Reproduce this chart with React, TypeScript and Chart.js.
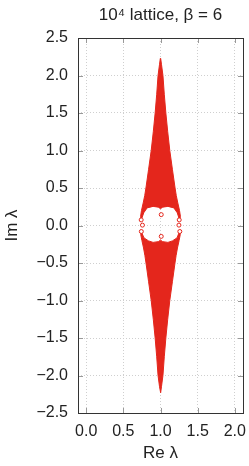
import React, { useEffect, useRef } from 'react';
import { Chart, registerables } from 'chart.js';

Chart.register(...registerables);

const TITLE = '10\u2074 lattice, \u03b2 = 6';
const X_TITLE = 'Re \u03bb';
const Y_TITLE = 'Im \u03bb';

const xTickValues = [0, 0.5, 1, 1.5, 2];
const xTickLabels = ['0.0', '0.5', '1.0', '1.5', '2.0'];
const yTickValues = [-2.5, -2, -1.5, -1, -0.5, 0, 0.5, 1, 1.5, 2, 2.5];
const yTickLabels = ['\u22122.5', '\u22122.0', '\u22121.5', '\u22121.0', '\u22120.5', '0.0', '0.5', '1.0', '1.5', '2.0', '2.5'];

// Upper lobe of the eigenvalue cloud (outline)
const upperRightX = [1.002, 1.013, 1.033, 1.051, 1.072, 1.097, 1.125, 1.16, 1.196, 1.212, 1.233, 1.256, 1.268, 1.262];
const upperRightY = [2.23, 2.15, 2.0, 1.75, 1.5, 1.25, 1.0, 0.75, 0.5, 0.4, 0.3, 0.2, 0.12, 0.09];
const holeTopX = [1.248, 1.225, 1.18, 1.1, 1.03, 1.0, 0.97, 0.9, 0.82, 0.775, 0.75];
const holeTopY = [0.1, 0.17, 0.235, 0.255, 0.245, 0.225, 0.245, 0.255, 0.235, 0.17, 0.1];
const upperLeftX = [0.738, 0.732, 0.744, 0.767, 0.788, 0.804, 0.84, 0.875, 0.903, 0.928, 0.949, 0.967, 0.987, 0.998];
const upperLeftY = [0.09, 0.12, 0.2, 0.3, 0.4, 0.5, 0.75, 1.0, 1.25, 1.5, 1.75, 2.0, 2.15, 2.23];

// Lower lobe
const lowerRightX = [1.262, 1.266, 1.25, 1.228, 1.21, 1.195, 1.16, 1.125, 1.097, 1.072, 1.051, 1.033, 1.013, 1.002];
const lowerRightY = [-0.09, -0.12, -0.2, -0.3, -0.4, -0.5, -0.75, -1.0, -1.25, -1.5, -1.75, -2.0, -2.15, -2.23];
const lowerLeftX = [0.998, 0.987, 0.967, 0.949, 0.928, 0.903, 0.875, 0.84, 0.805, 0.79, 0.772, 0.75, 0.734, 0.738];
const lowerLeftY = [-2.23, -2.15, -2.0, -1.75, -1.5, -1.25, -1.0, -0.75, -0.5, -0.4, -0.3, -0.2, -0.12, -0.09];
const holeBottomX = [0.75, 0.778, 0.84, 0.9, 0.97, 1.0, 1.03, 1.1, 1.16, 1.222, 1.248];
const holeBottomY = [-0.1, -0.165, -0.205, -0.225, -0.215, -0.195, -0.215, -0.225, -0.205, -0.165, -0.1];

// Isolated eigenvalues around the hole
const isolatedX = [0.74, 0.757, 0.742, 1.01, 1.01, 1.252, 1.248, 1.26];
const isolatedY = [0.075, 0.005, -0.08, 0.145, -0.145, 0.075, 0.005, -0.08];

const RED = '#e4261c';
const FONT = "'Liberation Sans', Arial, Helvetica, sans-serif";
const TEXT = '#222';

const zip = (xs: number[], ys: number[]) => xs.map((x, i) => ({ x, y: ys[i] }));

const framePlugin = {
  id: 'frameTicks',
  afterDraw(chart: any) {
    const { ctx, chartArea: a, scales } = chart;
    const L = 5;
    ctx.save();
    ctx.strokeStyle = '#999';
    ctx.lineWidth = 1;
    ctx.beginPath();
    for (const v of xTickValues) {
      const px = Math.round(scales.x.getPixelForValue(v)) + 0.5;
      ctx.moveTo(px, a.bottom);
      ctx.lineTo(px, a.bottom - L);
      ctx.moveTo(px, a.top);
      ctx.lineTo(px, a.top + L);
    }
    for (const v of yTickValues) {
      const py = Math.round(scales.y.getPixelForValue(v)) + 0.5;
      ctx.moveTo(a.left, py);
      ctx.lineTo(a.left + L, py);
      ctx.moveTo(a.right, py);
      ctx.lineTo(a.right - L, py);
    }
    ctx.stroke();
    ctx.strokeStyle = '#333';
    ctx.strokeRect(
      Math.round(a.left) + 0.5,
      Math.round(a.top) + 0.5,
      Math.round(a.right - a.left),
      Math.round(a.bottom - a.top)
    );
    ctx.restore();
  },
};

export default function App() {
  const ref = useRef<HTMLCanvasElement | null>(null);

  useEffect(() => {
    if (!ref.current) return;
    const upperLobe = [...zip(upperRightX, upperRightY), ...zip(holeTopX, holeTopY), ...zip(upperLeftX, upperLeftY)];
    const lowerLobe = [...zip(lowerRightX, lowerRightY), ...zip(lowerLeftX, lowerLeftY), ...zip(holeBottomX, holeBottomY)];
    const isolated = zip(isolatedX, isolatedY);

    const tickFont = { family: FONT, size: 16, weight: 'normal' as const };
    const titleFont = { family: FONT, size: 17, weight: 'normal' as const, lineHeight: 1.2 };

    const chart = new Chart(ref.current, {
      type: 'scatter',
      data: {
        datasets: [
          {
            label: 'isolated',
            data: isolated,
            showLine: false,
            pointRadius: 2,
            pointBorderWidth: 1,
            pointBorderColor: RED,
            pointBackgroundColor: '#ffffff',
          } as any,
          {
            type: 'line',
            label: 'upper',
            data: upperLobe,
            showLine: true,
            fill: 'shape',
            tension: 0,
            borderColor: RED,
            borderWidth: 1,
            backgroundColor: RED,
            pointRadius: 0,
          } as any,
          {
            type: 'line',
            label: 'lower',
            data: lowerLobe,
            showLine: true,
            fill: 'shape',
            tension: 0,
            borderColor: RED,
            borderWidth: 1,
            backgroundColor: RED,
            pointRadius: 0,
          } as any,
        ],
      },
      options: {
        responsive: false,
        animation: false,
        devicePixelRatio: 1,
        layout: { padding: { top: 0, right: 6, bottom: 0, left: 0 } },
        plugins: {
          legend: { display: false },
          tooltip: { enabled: false },
          title: {
            display: true,
            text: TITLE,
            fullSize: false,
            color: TEXT,
            font: titleFont,
            padding: { top: 5, bottom: 12.6 },
          },
        },
        scales: {
          x: {
            type: 'linear',
            min: -0.11,
            max: 2.11,
            afterFit: (s: any) => {
              s.height = 53;
              s.paddingLeft = 0;
              s.paddingRight = 0;
            },
            afterBuildTicks: (s: any) => { s.ticks = xTickValues.map((value) => ({ value })); },
            ticks: {
              callback: (_v: any, i: number) => xTickLabels[i],
              font: tickFont,
              color: TEXT,
              padding: 9,
              maxRotation: 0,
              autoSkip: false,
            },
            grid: { color: '#cfcfcf', lineWidth: 1, drawTicks: false },
            border: { display: false, dash: [1, 2] },
            title: { display: true, text: X_TITLE, color: TEXT, font: titleFont, padding: { top: 0, bottom: 2 } },
          },
          y: {
            type: 'linear',
            min: -2.5,
            max: 2.5,
            afterFit: (s: any) => {
              s.width = 78;
              s.paddingTop = 0;
              s.paddingBottom = 0;
            },
            afterBuildTicks: (s: any) => { s.ticks = yTickValues.map((value) => ({ value })); },
            ticks: {
              callback: (_v: any, i: number) => yTickLabels[i],
              font: tickFont,
              color: TEXT,
              padding: 10,
              autoSkip: false,
            },
            grid: { color: '#cfcfcf', lineWidth: 1, drawTicks: false },
            border: { display: false, dash: [1, 2] },
            title: { display: true, text: Y_TITLE, color: TEXT, font: titleFont, padding: { top: 2.3, bottom: 0 } },
          },
        },
      } as any,
      plugins: [framePlugin],
    });
    return () => chart.destroy();
  }, []);

  return (
    <div style={{ position: 'absolute', left: 0, top: 0, width: 249, height: 466, background: '#fff' }}>
      <canvas ref={ref} width={249} height={466} style={{ width: 249, height: 466, display: 'block' }} />
    </div>
  );
}
